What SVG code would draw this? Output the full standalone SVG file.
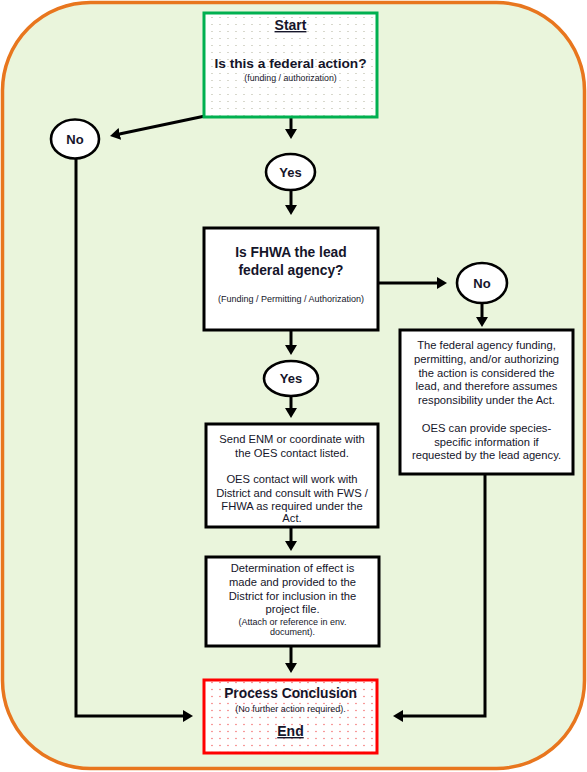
<svg xmlns="http://www.w3.org/2000/svg" width="587" height="772" viewBox="0 0 587 772">
<defs>
<style>
.t{font-family:"Liberation Sans",Arial,sans-serif;fill:#15152a;text-anchor:middle}
.b{font-weight:bold}
.u{text-decoration:underline}
.box{fill:#fff;stroke:#000;stroke-width:3}
.ell{fill:#fff;stroke:#000;stroke-width:2.6}
.ln{fill:none;stroke:#000;stroke-width:3;stroke-linejoin:miter}
.body{font-size:11.2px}
.sm{font-size:9px}
.big{font-size:13.8px}
.lbl{font-size:13px}
</style>
<pattern id="dotG" width="8" height="7" patternUnits="userSpaceOnUse">
<rect width="8" height="7" fill="#fff"/>
<circle cx="4" cy="3.5" r="0.6" fill="#a8a890"/>
</pattern>
<pattern id="dotR" width="8" height="7" patternUnits="userSpaceOnUse">
<rect width="8" height="7" fill="#fff"/>
<circle cx="4" cy="3.5" r="0.65" fill="#f25050"/>
</pattern>
<marker id="ah" viewBox="0 0 10 12" markerWidth="10" markerHeight="12" markerUnits="userSpaceOnUse" refX="4" refY="6" orient="auto">
<path d="M0,0 L10,6 L0,12 z" fill="#000"/>
</marker>
</defs>

<g id="frame">
<rect x="2.5" y="2.5" width="582" height="766" rx="88" ry="88" fill="#eaf5dc" stroke="#e8761e" stroke-width="3.5"/>
</g>

<g id="connectors">
<path class="ln" d="M205,116 L115.9,134.8" marker-end="url(#ah)"/>
<path class="ln" d="M291,117 V133" marker-end="url(#ah)"/>
<path class="ln" d="M291,190 V209" marker-end="url(#ah)"/>
<path class="ln" d="M378,283 H441" marker-end="url(#ah)"/>
<path class="ln" d="M482,303 V321" marker-end="url(#ah)"/>
<path class="ln" d="M291,330 V349" marker-end="url(#ah)"/>
<path class="ln" d="M291,396 V412" marker-end="url(#ah)"/>
<path class="ln" d="M291,527 V545" marker-end="url(#ah)"/>
<path class="ln" d="M291,646 V667" marker-end="url(#ah)"/>
<path class="ln" d="M76,159 V716 H187" marker-end="url(#ah)"/>
<path class="ln" d="M485,475 V716 H399" marker-end="url(#ah)"/>
</g>

<g id="start">
<rect x="204" y="13" width="173" height="104" fill="url(#dotG)" stroke="#00b050" stroke-width="3"/>
<text class="t b u" x="290.5" y="30" font-size="14">Start</text>
<text class="t b" x="290.5" y="68" font-size="13.7">Is this a federal action?</text>
<text class="t" x="290.5" y="80.5" font-size="8.8">(funding / authorization)</text>
</g>

<g id="no1">
<ellipse class="ell" cx="75" cy="139" rx="24" ry="19.5"/>
<text class="t b lbl" x="75" y="143.5">No</text>
</g>

<g id="yes1">
<ellipse class="ell" cx="290.5" cy="172" rx="24.5" ry="18"/>
<text class="t b lbl" x="290.5" y="176.5">Yes</text>
</g>

<g id="fhwa">
<rect class="box" x="204" y="228" width="174" height="102"/>
<text class="t b big" x="291" y="257">Is FHWA the lead</text>
<text class="t b big" x="291" y="275">federal agency?</text>
<text class="t sm" x="291" y="302">(Funding / Permitting / Authorization)</text>
</g>

<g id="no2">
<ellipse class="ell" cx="482" cy="283" rx="25" ry="20"/>
<text class="t b lbl" x="482" y="287.5">No</text>
</g>

<g id="lead">
<rect class="box" x="400" y="330" width="173" height="144"/>
<text class="t body" x="486.5" y="349">The federal agency funding,</text>
<text class="t body" x="486.5" y="363">permitting, and/or authorizing</text>
<text class="t body" x="486.5" y="376.5">the action is considered the</text>
<text class="t body" x="486.5" y="390">lead, and therefore assumes</text>
<text class="t body" x="486.5" y="404">responsibility under the Act.</text>
<text class="t body" x="486.5" y="432">OES can provide species-</text>
<text class="t body" x="486.5" y="445.5">specific information if</text>
<text class="t body" x="486.5" y="459">requested by the lead agency.</text>
</g>

<g id="yes2">
<ellipse class="ell" cx="291" cy="378.5" rx="27" ry="17.5"/>
<text class="t b lbl" x="291" y="383">Yes</text>
</g>

<g id="send">
<rect class="box" x="206" y="424" width="172" height="103"/>
<text class="t body" x="292" y="443">Send ENM or coordinate with</text>
<text class="t body" x="292" y="456.5">the OES contact listed.</text>
<text class="t body" x="292" y="483">OES contact will work with</text>
<text class="t body" x="292" y="496.5">District and consult with FWS /</text>
<text class="t body" x="292" y="509.5">FHWA as required under the</text>
<text class="t body" x="292" y="522">Act.</text>
</g>

<g id="determination">
<rect class="box" x="206" y="557" width="173" height="89"/>
<text class="t body" x="292.5" y="572">Determination of effect is</text>
<text class="t body" x="292.5" y="586">made and provided to the</text>
<text class="t body" x="292.5" y="600">District for inclusion in the</text>
<text class="t body" x="292.5" y="613">project file.</text>
<text class="t sm" x="292.5" y="625">(Attach or reference in env.</text>
<text class="t sm" x="292.5" y="635">document).</text>
</g>

<g id="conclusion">
<rect x="204" y="680" width="173" height="73" fill="url(#dotR)" stroke="#ff0000" stroke-width="3"/>
<text class="t b big" x="290.5" y="698">Process Conclusion</text>
<text class="t" x="290.5" y="712" font-size="9">(No further action required).</text>
<text class="t b u" x="290.5" y="736" font-size="14">End</text>
</g>
</svg>
